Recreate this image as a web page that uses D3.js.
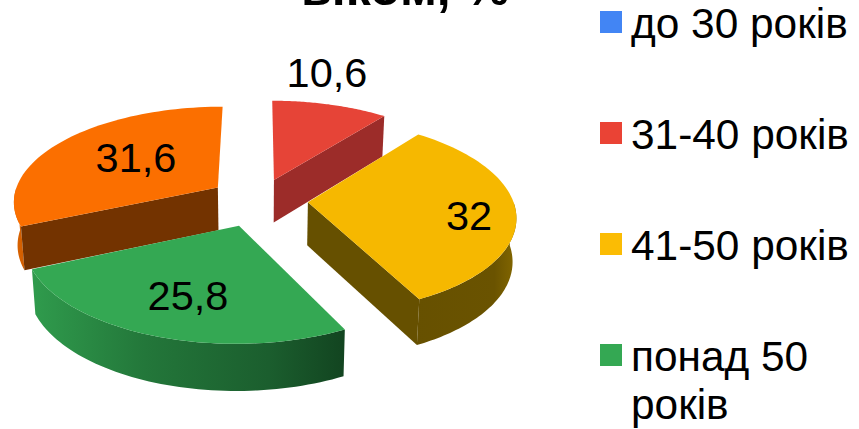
<!DOCTYPE html>
<html><head><meta charset="utf-8">
<script src="https://cdn.jsdelivr.net/npm/d3@7"></script>
<style>html,body{margin:0;background:#fff}svg{display:block}text{font-family:"Liberation Sans",Arial,sans-serif;fill:#000}</style>
</head><body><svg id="c" width="859" height="429"></svg>
<script>
const categories = ["до 30 років","31-40 років","41-50 років","понад 50 років"];
const seriesValues = [0,10.6,32,25.8,31.6];
const valueLabels = ["0","10,6","32","25,8","31,6"];
const explodeBy = [0,47,49,57,50];
const topColors = ["#4285f4","#e64437","#f6b800","#34a853","#fb6f00"];
const legendColors = ["#4285f4","#ea4335","#fbbc04","#34a853"];
const legendLines = [["до 30 років"],["31-40 років"],["41-50 років"],["понад 50","років"]];
const titleText = "віком, %";

const svg = d3.select("#c");
const cx=259, cy=200, R=205, k=.4625, D=R*7.5, H=43, lowShrink=.985;
const project=(X,Y,Z)=>{const s=D/(D-Y);const q=Z?lowShrink:1;return [cx+X*s*q, cy+Y*k*s+Z*Math.sqrt(s)];};
const pie=d3.pie().sort(null).value(d=>d)(seriesValues);
const rim=(a,off,Z)=>project(off[0]+R*Math.sin(a),off[1]-R*Math.cos(a),Z);
const line=d3.line();
const defs=svg.append("defs");
const grad=(id,stops,x1,x2)=>{const g=defs.append("linearGradient").attr("id",id).attr("gradientUnits","userSpaceOnUse").attr("x1",x1).attr("x2",x2).attr("y1",0).attr("y2",0);
 stops.forEach(([o,c])=>g.append("stop").attr("offset",o).attr("stop-color",c));return `url(#${id})`;};
const wallFill=[null,null,
  grad("gy",[[0,"#665000"],[.8,"#6a5300"],[1,"#866900"]],400,518),
  grad("gg",[[0,"#2f9a4c"],[.35,"#23773a"],[.75,"#1b5e2e"],[1,"#124420"]],36,346),
  grad("go",[[0,"#d96200"],[1,"#c85a00"]],14,40)];
const cutFill=[null,"#9c2c29","#665000",null,"#733300"];
const steps=a=>d3.range(0,61).map(j=>a[0]+(a[1]-a[0])*j/60);
[1,4,2,3].forEach(i=>{
  const p=pie[i], a0=p.startAngle, a1=p.endAngle, m=(a0+a1)/2;
  const off=[explodeBy[i]*Math.sin(m),-explodeBy[i]*Math.cos(m)];
  const top=steps([a0,a1]).map(a=>rim(a,off,0));
  const apexT=project(off[0],off[1],0), apexL=project(off[0],off[1],H);
  const g=svg.append("g");
  if(wallFill[i]){
    const w=steps([Math.max(a0,Math.PI/2),Math.min(a1,1.5*Math.PI)]);
    g.append("path").attr("d",line(w.map(a=>rim(a,off,0)).concat(w.map(a=>rim(a,off,H)).reverse()))+"Z").attr("fill",wallFill[i]);
  }
  if(cutFill[i]){
    const e=i===4?a0:a1;
    g.append("path").attr("d",line([apexT,rim(e,off,0),rim(e,off,H),apexL])+"Z").attr("fill",cutFill[i]);
  }
  g.append("path").attr("d",line([apexT,...top])+"Z").attr("fill",topColors[i]);
});
const labelPos=[null,[327,72],[469,215],[188,295],[136,157]];
valueLabels.forEach((t,i)=>{ if(!labelPos[i])return;
  svg.append("text").attr("x",labelPos[i][0]).attr("y",labelPos[i][1]+15).attr("text-anchor","middle").attr("font-size",41.5).text(t);});
const yL=d3.scaleLinear().domain([0,categories.length-1]).range([11,344]);
legendLines.forEach((ls,i)=>{
  svg.append("rect").attr("x",600).attr("y",yL(i)).attr("width",22).attr("height",22).attr("fill",legendColors[i]);
  ls.forEach((t,j)=>svg.append("text").attr("x",631).attr("y",yL(i)+27+j*48).attr("font-size",42.4).text(t));
});
svg.append("text").attr("x",301).attr("y",5).attr("font-size",50).attr("font-weight","bold").text(titleText);
</script></body></html>
